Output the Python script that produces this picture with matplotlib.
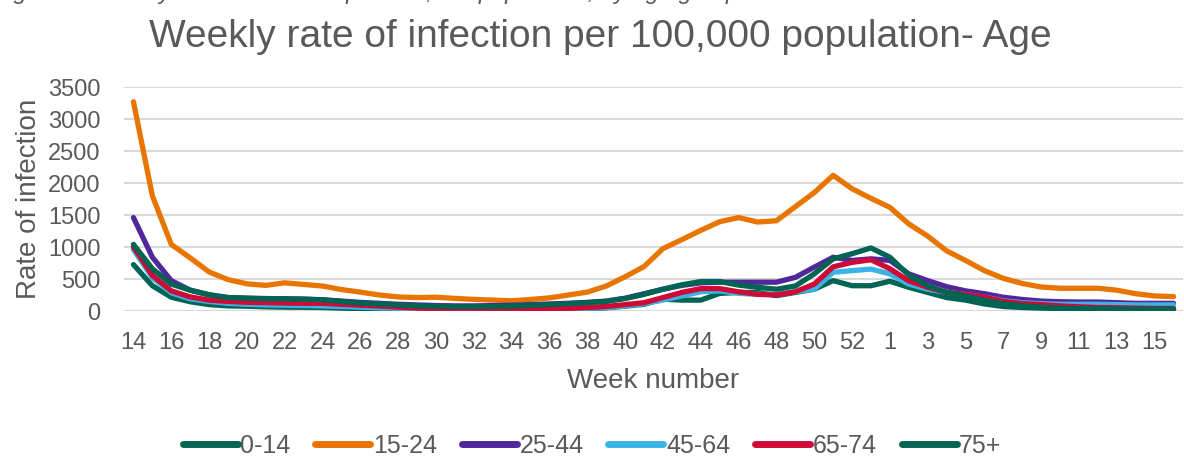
import matplotlib
matplotlib.use("Agg")
import matplotlib.pyplot as plt

plt.rcParams['font.family'] = ['Liberation Sans', 'DejaVu Sans']

weeks = list(range(14, 54)) + list(range(1, 17))

age_0_14 = [725, 395, 215, 145, 100, 80, 75, 65, 60, 58, 55, 45, 38, 30, 25, 22, 20, 20, 20, 20,
            20, 22, 22, 25, 35, 50, 75, 105, 185, 170, 170, 275, 290, 290, 240, 290, 340, 475, 395, 395,
            465, 370, 290, 210, 170, 110, 70, 55, 45, 40, 35, 30, 30, 30, 30, 30]
age_15_24 = [3270, 1800, 1040, 830, 610, 490, 425, 400, 440, 415, 390, 335, 295, 250, 220, 210, 215, 197, 181, 171,
             160, 180, 205, 250, 295, 390, 535, 695, 975, 1115, 1260, 1395, 1460, 1390, 1410, 1630, 1850, 2120, 1910, 1760,
             1620, 1360, 1170, 940, 790, 630, 510, 430, 375, 355, 355, 355, 325, 270, 235, 225]
age_25_44 = [1460, 840, 475, 325, 250, 210, 200, 195, 190, 185, 175, 155, 135, 120, 105, 95, 85, 80, 80, 85,
             90, 100, 110, 120, 135, 155, 200, 270, 340, 400, 440, 450, 450, 450, 450, 525, 685, 840, 790, 815,
             790, 580, 475, 380, 315, 270, 215, 180, 155, 145, 140, 140, 130, 120, 120, 120]
age_45_64 = [960, 520, 285, 190, 150, 120, 105, 95, 90, 85, 78, 70, 60, 50, 42, 35, 28, 25, 22, 22,
             24, 26, 28, 32, 42, 52, 80, 115, 170, 235, 300, 315, 275, 260, 260, 300, 340, 605, 630, 655,
             580, 420, 340, 290, 260, 215, 160, 130, 115, 105, 105, 105, 100, 95, 95, 95]
age_65_74 = [1000, 555, 315, 220, 170, 150, 135, 130, 125, 120, 120, 105, 90, 78, 60, 45, 38, 35, 30, 28,
             28, 30, 32, 40, 55, 70, 100, 130, 210, 290, 350, 350, 300, 260, 250, 300, 420, 690, 760, 800,
             660, 470, 370, 290, 260, 215, 150, 115, 100, 80, 65, 55, 50, 45, 40, 40]
age_75_plus = [1040, 660, 420, 325, 255, 210, 200, 190, 190, 185, 175, 150, 125, 110, 95, 80, 72, 68, 68, 70,
               75, 90, 100, 115, 130, 150, 195, 260, 340, 410, 460, 460, 405, 370, 340, 390, 580, 815, 895, 985,
               840, 560, 395, 290, 235, 165, 110, 80, 60, 45, 40, 35, 30, 30, 30, 30]

series_names = ['0-14', '15-24', '25-44', '45-64', '65-74', '75+']
series_values = [age_0_14, age_15_24, age_25_44, age_45_64, age_65_74, age_75_plus]
colors = ['#006452', '#E87500', '#51279B', '#3BB4E5', '#CE0A36', '#006452']

y_ticks = [0, 500, 1000, 1500, 2000, 2500, 3000, 3500]

grey = '#595959'

fig = plt.figure(figsize=(11.84, 4.59), dpi=100)
ax = fig.add_axes([124 / 1184, 1 - 311 / 459, 1059 / 1184, 224 / 459])

x = list(range(len(weeks)))
for name, vals, c in zip(series_names, series_values, colors):
    ax.plot(x, vals, color=c, lw=3.8, label=name, solid_capstyle='round', solid_joinstyle='round')

ax.set_xlim(-0.5, len(weeks) - 0.5)
ax.set_ylim(0, 3500)
ax.set_yticks(y_ticks)
ax.set_xticks(x[::2])
ax.set_xticklabels([str(w) for w in weeks[::2]])
ax.tick_params(axis='both', length=0, labelsize=17, labelcolor=grey)
ax.tick_params(axis='x', pad=15)
ax.tick_params(axis='y', pad=17)
ax.grid(axis='y', color='#D9D9D9', lw=1.5)
ax.set_axisbelow(True)
for s in ax.spines.values():
    s.set_visible(False)

ax.set_xlabel('Week number', fontsize=20, color=grey, labelpad=10)
ax.set_ylabel('Rate of infection', fontsize=20, color=grey, labelpad=4)

fig.text(0.507, 1 - 37 / 459, 'Weekly rate of infection per 100,000 population- Age',
         ha='center', va='center', fontsize=28, color=grey)

fig.text(-0.005, 1 + 1.5 / 459, 'Figure 5: Weekly rate of infection per 100,000 population, by age group',
         ha='left', va='baseline', fontsize=17, style='italic', color=grey)

leg = fig.legend(loc='center', bbox_to_anchor=(0.5, 1 - 446 / 459), ncol=6, frameon=False,
                 fontsize=18, handlelength=2.2, handletextpad=0.1, columnspacing=1.0)
for t in leg.get_texts():
    t.set_color(grey)
for h in leg.get_lines():
    h.set_linewidth(5)

fig.savefig('out.png', dpi=100)
